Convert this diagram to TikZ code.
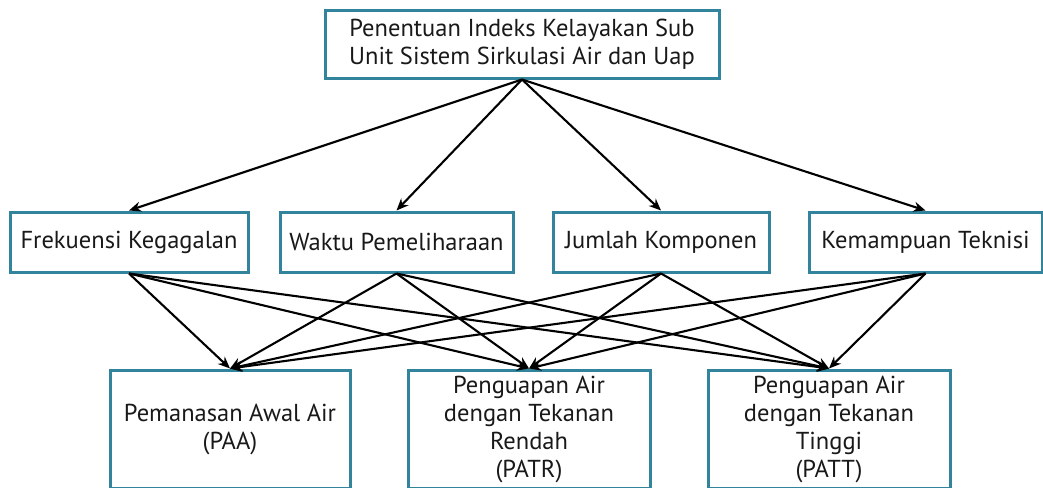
\documentclass[tikz,border=0pt]{standalone}
\usepackage{fontspec}
\setmainfont{PT Sans}
\usetikzlibrary{arrows.meta}
\definecolor{boxline}{RGB}{49,132,155}
\definecolor{inktext}{RGB}{25,25,25}
\tikzset{
  box/.style={draw=boxline, line width=3pt, fill=white, text=inktext,
    inner sep=0pt, align=center, font=\fontsize{24.5}{28}\selectfont},
  link/.style={line width=2.1pt, -{Stealth[length=12pt,width=10pt]}}
}
\begin{document}
\begin{tikzpicture}[x=1pt,y=-1pt]
\clip (0,0) rectangle (1043,487);
\fill[white] (0,0) rectangle (1043,487);
% goal
\node[box, minimum width=394pt, minimum height=67pt] (goal) at (522,44.5)
  {Penentuan Indeks Kelayakan Sub\\Unit Sistem Sirkulasi Air dan Uap};
% criteria
\node[box, minimum width=238pt, minimum height=60pt] (c1) at (129,242) {Frekuensi Kegagalan};
\node[box, minimum width=233pt, minimum height=60pt] (c2) at (396.5,242) {Waktu Pemeliharaan};
\node[box, minimum width=216pt, minimum height=60pt] (c3) at (661,242) {Jumlah Komponen};
\node[box, minimum width=233pt, minimum height=60pt] (c4) at (925.5,242) {Kemampuan Teknisi};
% sub units
\node[box, minimum width=240pt, minimum height=118pt] (a1) at (230,429) {Pemanasan Awal Air\\(PAA)};
\node[box, minimum width=242pt, minimum height=118pt] (a2) at (529,429) {Penguapan Air\\dengan Tekanan\\Rendah\\(PATR)};
\node[box, minimum width=242pt, minimum height=118pt] (a3) at (829,429) {Penguapan Air\\dengan Tekanan\\Tinggi\\(PATT)};
% goal to criteria
\foreach \c in {c1,c2,c3,c4}
  \draw[link] (goal.south) -- (\c.north);
% criteria to sub units
\foreach \c in {c1,c2,c3,c4}
  \foreach \a in {a1,a2,a3}
    \draw[link] (\c.south) -- (\a.north);
\end{tikzpicture}
\end{document}
